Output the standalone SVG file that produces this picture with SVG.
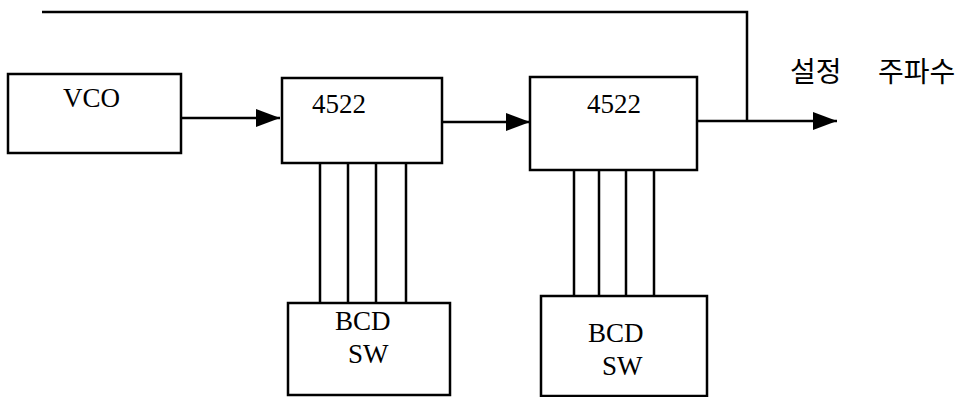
<svg xmlns="http://www.w3.org/2000/svg" width="970" height="397" viewBox="0 0 970 397">
<defs>
<style>
.box{fill:#fff;stroke:#000;stroke-width:2.5}
.ln{fill:none;stroke:#000;stroke-width:2.5}
.bus{fill:none;stroke:#000;stroke-width:2.5}
.t{font-family:'Liberation Serif','DejaVu Serif',serif;font-size:27px;fill:#000}
.k{font-family:'Noto Sans CJK KR','Noto Sans',sans-serif;font-size:28px;fill:#000}
</style>
<marker id="ah" markerWidth="24" markerHeight="18" refX="24" refY="9" orient="auto" markerUnits="userSpaceOnUse">
<path d="M0,0 L24,9 L0,18 Z" fill="#000"/>
</marker>
</defs>
<rect width="970" height="397" fill="#fff"/>
<g id="connectors">
<path class="ln" d="M181,118 H280" marker-end="url(#ah)"/>
<path class="ln" d="M442,122 H530" marker-end="url(#ah)"/>
<path class="ln" d="M697,121 H837" marker-end="url(#ah)"/>
<path class="ln" d="M42,12 H747 V121"/>
<path class="bus" d="M320,163 V303 M348,163 V303 M376,163 V303 M406,163 V303"/>
<path class="bus" d="M574,170 V296 M599,170 V296 M626,170 V296 M654,170 V296"/>
</g>
<g id="vco">
<rect class="box" x="8" y="74" width="173" height="79"/>
<text class="t" x="63" y="107" font-family="Liberation Serif, serif" font-size="28">VCO</text>
</g>
<g id="div1">
<rect class="box" x="282" y="78" width="160" height="85"/>
<text class="t" x="312" y="113" font-family="Liberation Serif, serif">4522</text>
</g>
<g id="div2">
<rect class="box" x="530" y="77" width="167" height="93"/>
<text class="t" x="587" y="113" font-family="Liberation Serif, serif">4522</text>
</g>
<g id="bcd1">
<rect class="box" x="288" y="303" width="162" height="92"/>
<text class="t" x="335" y="330" font-family="Liberation Serif, serif">BCD</text>
<text class="t" x="348" y="363" font-family="Liberation Serif, serif">SW</text>
</g>
<g id="bcd2">
<rect class="box" x="541" y="296" width="166" height="100"/>
<text class="t" x="588" y="342" font-family="Liberation Serif, serif">BCD</text>
<text class="t" x="602" y="375" font-family="Liberation Serif, serif">SW</text>
</g>
<g id="output-label">
<text class="k" x="790" y="82">설정</text>
<text class="k" x="878" y="82">주파수</text>
</g>
</svg>
